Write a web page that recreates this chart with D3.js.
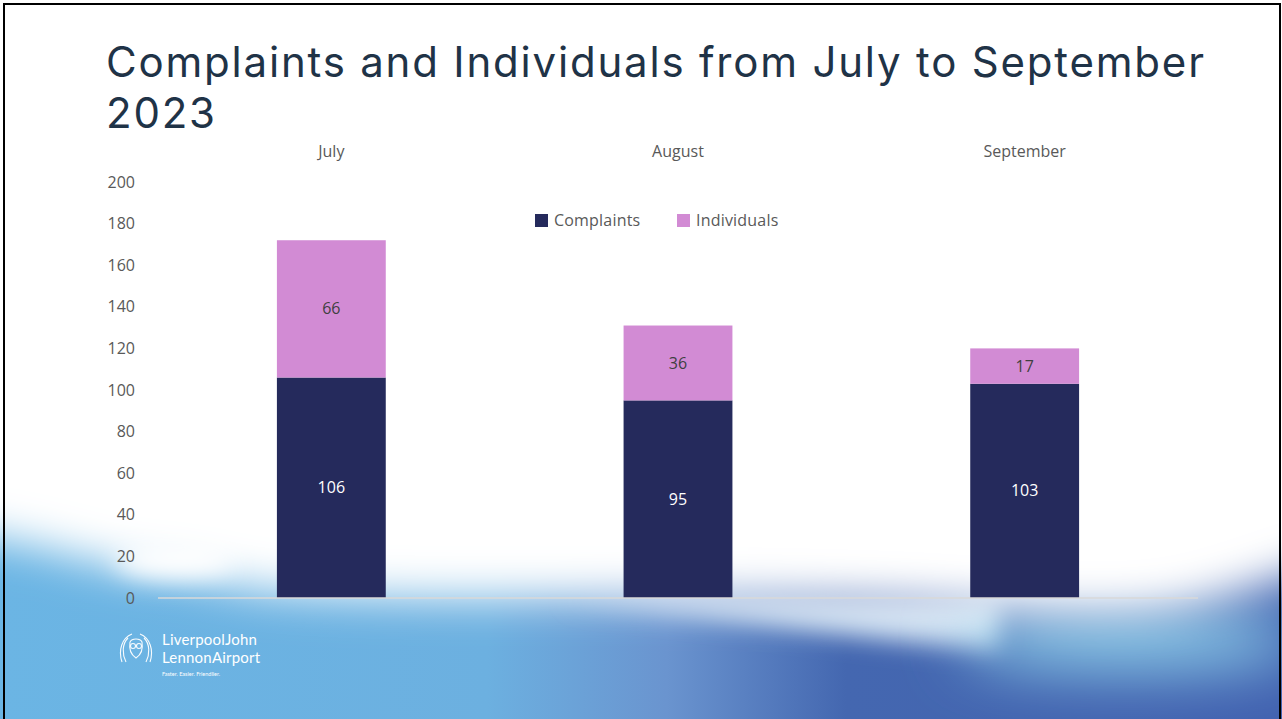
<!DOCTYPE html>
<html>
<head>
<meta charset="utf-8">
<script src="https://cdn.jsdelivr.net/npm/d3@7"></script>
<style>
  html, body { margin: 0; padding: 0; background: #fff; }
  svg { display: block; }
</style>
</head>
<body>
<script>
// chart values
const months = ["July", "August", "September"];
const complaints = [106, 95, 103];
const individuals = [66, 36, 17];
const seriesNames = ["Complaints", "Individuals"];
const seriesColors = ["#252a5c", "#d28bd4"];

const width = 1282;
const height = 719;
const margin = { top: 182, right: 84, bottom: 121, left: 158 };

const svg = d3.select("body").append("svg")
  .attr("width", width)
  .attr("height", height);

// Background: white slide with blue wave at the bottom
const defs = svg.append("defs");

const bg = defs.append("linearGradient").attr("id", "bgBlue")
  .attr("x1", "0%").attr("x2", "100%").attr("y1", "0%").attr("y2", "0%");
[["0%", "#6bb5e4"], ["38%", "#6cb0e0"], ["52%", "#6a94cf"], ["66%", "#4467b0"], ["100%", "#4262b0"]]
  .forEach(([o, c]) => bg.append("stop").attr("offset", o).attr("stop-color", c));

function blurFilter(id, sd) {
  defs.append("filter").attr("id", id)
    .attr("filterUnits", "userSpaceOnUse")
    .attr("x", -200).attr("y", -200).attr("width", width + 400).attr("height", height + 400)
    .append("feGaussianBlur").attr("stdDeviation", sd);
}
blurFilter("blur", 22);
blurFilter("blurSmall", 12);
blurFilter("blurBig", 30);

svg.append("rect").attr("width", width).attr("height", height).attr("fill", "#fff");
svg.append("rect").attr("x", 0).attr("y", 480).attr("width", width).attr("height", height - 480)
  .attr("fill", "url(#bgBlue)");

// pale strip above the deep blue in the middle
svg.append("path")
  .attr("d", "M560,600 C700,610 850,640 1000,650 L1000,600 Z")
  .attr("fill", "#c9dcef").attr("filter", "url(#blurSmall)");

// cyan haze under the right-hand glow
svg.append("ellipse").attr("cx", 1130).attr("cy", 640).attr("rx", 170).attr("ry", 30)
  .attr("fill", "#8fd0ea").attr("filter", "url(#blurBig)");

// white cover shaping the wave edge
svg.append("path")
  .attr("d", "M-60,-60 L1340,-60 L1340,560 C1290,575 1250,592 1200,604 C1150,616 1080,616 1000,610 " +
             "C880,600 780,600 640,598 C500,598 380,600 280,592 C220,586 200,575 160,572 " +
             "C100,570 60,545 -60,530 Z")
  .attr("fill", "#fff").attr("filter", "url(#blur)");

// white glow on the left
svg.append("ellipse").attr("cx", 175).attr("cy", 560).attr("rx", 60).attr("ry", 18)
  .attr("fill", "#fff").attr("filter", "url(#blurSmall)");

// Scales
const x = d3.scaleBand()
  .domain(months)
  .range([margin.left, width - margin.right])
  .paddingInner(0.686)
  .paddingOuter(0.343);

const y = d3.scaleLinear()
  .domain([0, 200])
  .range([height - margin.bottom, margin.top]);

const table = months.map((m, i) => ({ month: m, Complaints: complaints[i], Individuals: individuals[i] }));
const stacked = d3.stack().keys(seriesNames)(table);
const color = d3.scaleOrdinal().domain(seriesNames).range(seriesColors);

// Y axis labels
svg.append("g")
  .selectAll("text")
  .data(y.ticks(10))
  .join("text")
  .attr("x", 135)
  .attr("y", d => y(d))
  .attr("dy", "0.35em")
  .attr("text-anchor", "end")
  .attr("font-family", "'Open Sans', sans-serif")
  .attr("font-size", 16)
  .attr("fill", "#595959")
  .text(d => d);

// Category labels on top
svg.append("g")
  .selectAll("text")
  .data(months)
  .join("text")
  .attr("x", d => x(d) + x.bandwidth() / 2)
  .attr("y", 157)
  .attr("text-anchor", "middle")
  .attr("font-family", "'Open Sans', sans-serif")
  .attr("font-size", 16)
  .attr("fill", "#595959")
  .text(d => d);

// Bars
const layer = svg.append("g")
  .selectAll("g")
  .data(stacked)
  .join("g")
  .attr("fill", d => color(d.key));

layer.selectAll("rect")
  .data(d => d)
  .join("rect")
  .attr("x", d => x(d.data.month))
  .attr("y", d => y(d[1]))
  .attr("width", x.bandwidth())
  .attr("height", d => y(d[0]) - y(d[1]));

// Baseline
svg.append("line")
  .attr("x1", margin.left).attr("x2", width - margin.right)
  .attr("y1", y(0)).attr("y2", y(0))
  .attr("stroke", "#d9d9d9").attr("stroke-width", 1.5);

// Value labels
stacked.forEach(s => {
  svg.append("g")
    .selectAll("text")
    .data(s)
    .join("text")
    .attr("x", d => x(d.data.month) + x.bandwidth() / 2)
    .attr("y", d => y((d[0] + d[1]) / 2))
    .attr("dy", "0.35em")
    .attr("text-anchor", "middle")
    .attr("font-family", "'Open Sans', sans-serif")
    .attr("font-size", 16)
    .attr("fill", s.key === "Complaints" ? "#ffffff" : "#404040")
    .text(d => d.data[s.key]);
});

// Legend
const legend = svg.append("g").attr("transform", "translate(535,220)");
const legendX = [0, 142];
seriesNames.forEach((name, i) => {
  const g = legend.append("g").attr("transform", `translate(${legendX[i]},0)`);
  g.append("rect").attr("x", 0).attr("y", -6).attr("width", 13).attr("height", 13)
    .attr("fill", seriesColors[i]);
  g.append("text").attr("x", 19).attr("y", 0).attr("dy", "0.35em")
    .attr("font-family", "'Open Sans', sans-serif")
    .attr("font-size", 16)
    .attr("letter-spacing", 0.2)
    .attr("fill", "#595959")
    .text(name);
});

// Title (two lines, spaced so their boxes don't collide)
const titleLines = ["Complaints and Individuals from July to September", "2023"];
svg.append("g")
  .selectAll("text")
  .data(titleLines)
  .join("text")
  .attr("x", 106)
  .attr("y", (d, i) => 77 + i * 51)
  .attr("font-family", "Inter, 'Noto Sans', sans-serif")
  .attr("font-weight", 400)
  .attr("font-size", 42)
  .attr("letter-spacing", 1.8)
  .attr("fill", "#1f3347")
  .text(d => d);

// Logo
const logo = svg.append("g").attr("transform", "translate(118,632)")
  .attr("fill", "none").attr("stroke", "#fff").attr("stroke-width", 1.1).attr("opacity", 0.95);
logo.append("path").attr("d", "M14,2 C4,6 0,18 4,30 M10,6 C4,12 4,22 8,30 M22,2 C32,6 36,18 32,30 M26,6 C32,12 32,22 28,30");
logo.append("path").attr("d", "M12,10 C14,6 22,6 24,10 C25,16 24,22 18,26 C12,22 11,16 12,10");
logo.append("circle").attr("cx", 15).attr("cy", 14).attr("r", 2.5);
logo.append("circle").attr("cx", 21).attr("cy", 14).attr("r", 2.5);

svg.append("g")
  .selectAll("text")
  .data(["LiverpoolJohn", "LennonAirport"])
  .join("text")
  .attr("x", 162)
  .attr("y", (d, i) => 645 + i * 18)
  .attr("font-family", "Lato, sans-serif")
  .attr("font-size", 15)
  .attr("letter-spacing", 0.2)
  .attr("fill", "#fff")
  .text(d => d);
svg.append("text")
  .attr("x", 162).attr("y", 676)
  .attr("font-family", "Lato, sans-serif")
  .attr("font-size", 5.5)
  .attr("fill", "#fff")
  .text("Faster. Easier. Friendlier.");

// Slide border
svg.append("rect")
  .attr("x", 4).attr("y", 4).attr("width", 1276).attr("height", 730)
  .attr("fill", "none").attr("stroke", "#000").attr("stroke-width", 2);
</script>
</body>
</html>
